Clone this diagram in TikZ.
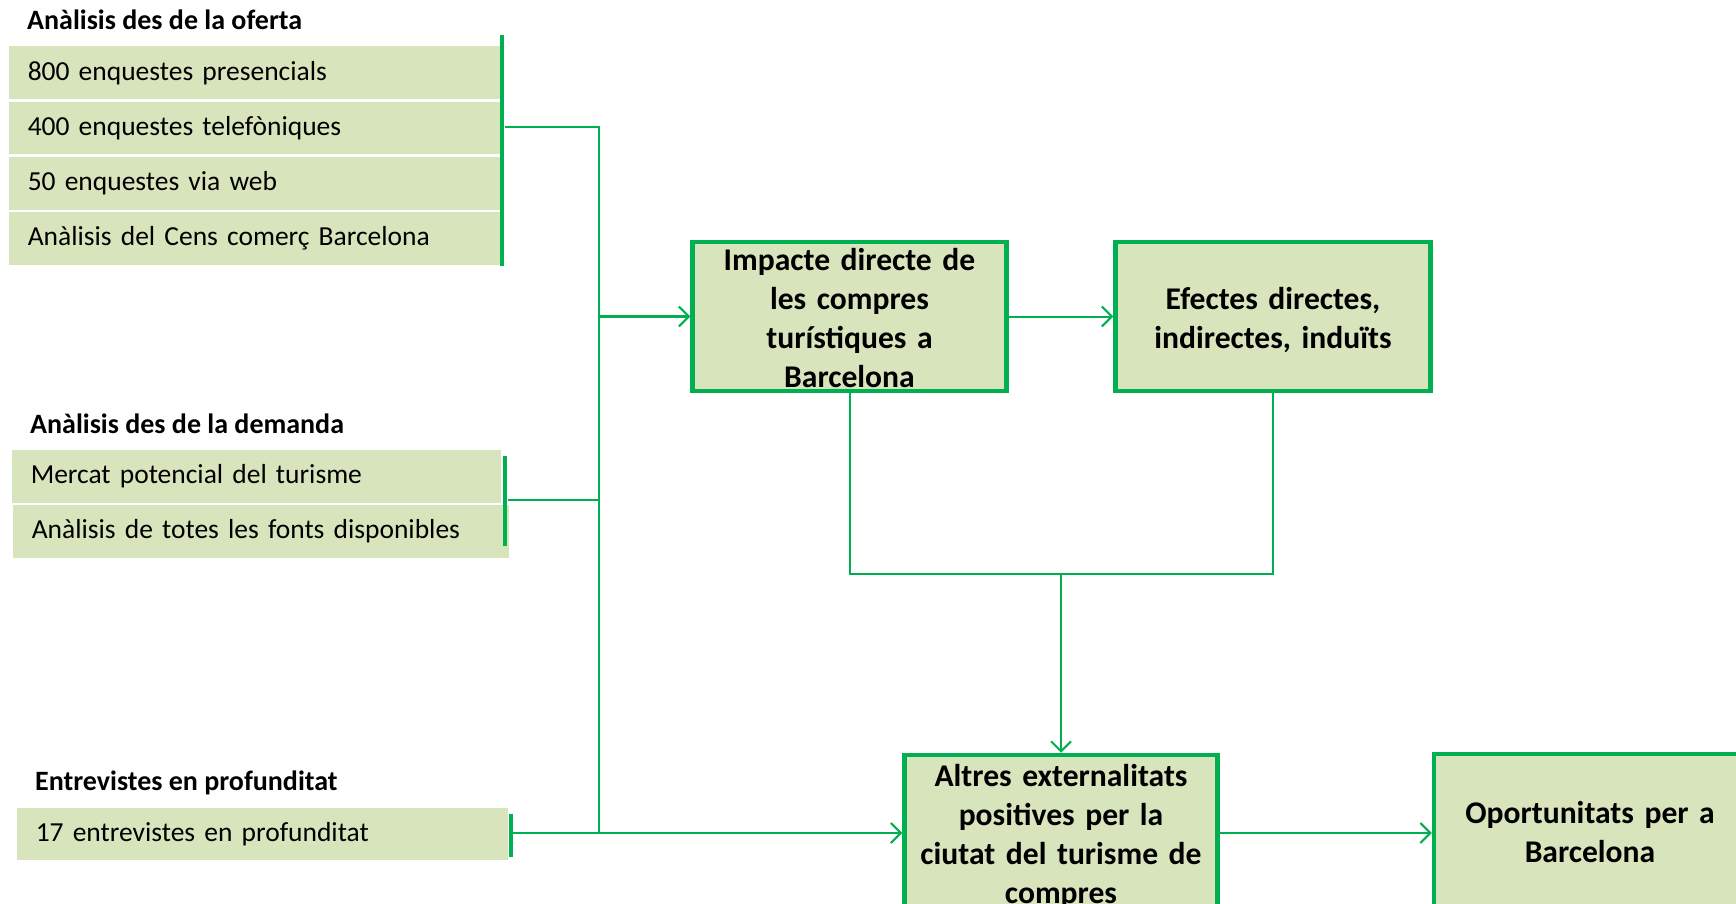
\documentclass[tikz,border=0pt]{standalone}
\usepackage{fontspec}
\setmainfont{Carlito}
\newfontfamily\rowfont{Carlito}[WordSpace=0.85]
\usetikzlibrary{arrows.meta,calc}
\definecolor{lg}{HTML}{D8E4BC}
\definecolor{gr}{HTML}{00B050}
\begin{document}
\begin{tikzpicture}[x=1pt,y=-1pt,
  conn/.style={draw=gr, line width=2pt},
  tipconn/.style={conn, -{Straight Barb[length=10pt,width=20pt,line width=2pt]}},
  sidebar/.style={draw=gr, line width=4.5pt},
  rowbox/.style={fill=lg, draw=white, line width=1.5pt, anchor=north west, inner xsep=20pt, inner ysep=0pt, align=left, font=\rowfont\fontsize{27.5}{33}\selectfont, minimum height=54pt},
  head/.style={anchor=west, inner sep=0pt, font=\bfseries\fontsize{28}{33}\selectfont},
  mainbox/.style={fill=lg, draw=gr, line width=4.5pt, inner sep=0pt},
  boxtext/.style={align=center, inner sep=0pt, font=\bfseries\fontsize{31.6}{38.75}\selectfont, text width=300pt},
]
\useasboundingbox (0,0) rectangle (1736,904);
\clip (0,0) rectangle (1736,904);

% headings
\node[head] (ho) at (27,20) {Anàlisis des de la oferta};
\node[head] (hd) at (30,424) {Anàlisis des de la demanda};
\node[head] (he) at (35,783) {Entrevistes en profunditat};

% offer rows
\node[rowbox, minimum width=493pt, text width=453pt] (o1) at (7,45) {800 enquestes presencials};
\node[rowbox, minimum width=493pt, text width=453pt] (o2) at (7,100.25) {400 enquestes telefòniques};
\node[rowbox, minimum width=493pt, text width=453pt] (o3) at (7,155.5) {50 enquestes via web};
\node[rowbox, minimum width=493pt, text width=453pt] (o4) at (7,210.75) {Anàlisis del Cens comerç Barcelona};

% demand rows
\node[rowbox, minimum width=491pt, text width=451pt] (d1) at (10,448.5) {Mercat potencial del turisme};
\node[rowbox, minimum width=498pt, text width=458pt] (d2) at (11,503.5) {Anàlisis de totes les fonts disponibles};

% interview row
\node[rowbox, minimum width=493pt, text width=453pt] (e1) at (15,806) {17 entrevistes en profunditat};

% side bars
\draw[sidebar] (502,35) -- (502,266);
\draw[sidebar] (505,456) -- (505,546);
\draw[sidebar] (511,814) -- (511,857);

% main boxes
\node[mainbox, minimum width=314pt, minimum height=149pt] (b1) at (849.5,316.5) {};
\node[mainbox, minimum width=315pt, minimum height=149pt] (b2) at (1273,316.5) {};
\node[mainbox, minimum width=313pt, minimum height=156pt] (b3) at (1061,833) {};
\node[mainbox, minimum width=312pt, minimum height=156pt] (b4) at (1590,832) {};

\node[boxtext] (t1) at ($(b1.center)+(0,1.5)$) {Impacte directe de\\les compres\\turístiques a\\Barcelona};
\node[boxtext] (t2) at ($(b2.center)+(0,3.5)$) {Efectes directes,\\indirectes, induïts};
\node[boxtext] (t3) at ($(b3.center)+(0,3.5)$) {Altres externalitats\\positives per la\\ciutat del turisme de\\compres};
\node[boxtext] (t4) at (b4.center) {Oportunitats per a\\Barcelona};

% connectors
\coordinate (ob) at (505,127);
\coordinate (db) at (508,500);
\coordinate (eb) at (513,833);
\coordinate (sp) at (599,833);
\coordinate (sj) at (599,316.5);
\coordinate (jn) at (1061,574);

\draw[conn] (ob) -| (sp);
\draw[conn] (db) -- (db -| sp);
\draw[tipconn, line width=3pt] (sj) -- (b1.west);
\draw[tipconn] (eb) -- (b3.west);
\draw[tipconn] (b1.east) -- (b2.west);
\draw[tipconn] (b3.east) -- (b3.east -| b4.west);
\draw[conn] (b1.south) |- (jn) -| (b2.south);
\draw[tipconn] (jn) -- (b3.north);
\end{tikzpicture}
\end{document}
